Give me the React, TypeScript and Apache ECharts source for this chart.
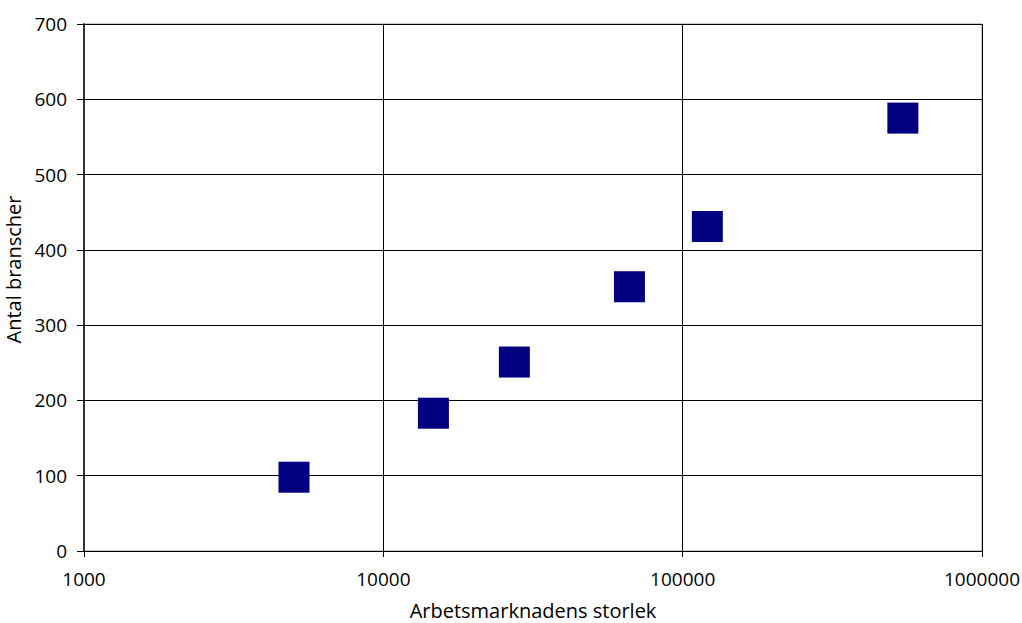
import React, { useEffect, useRef } from "react";
import * as echarts from "echarts";

const marketSize = [5030, 14700, 27400, 66400, 120900, 544000];
const industries = [98, 183, 251, 351, 431, 575];
const yTicks = [0, 100, 200, 300, 400, 500, 600, 700];

export default function App() {
  const ref = useRef<HTMLDivElement>(null);
  useEffect(() => {
    const chart = echarts.init(ref.current!, null, { renderer: "svg" });
    const font = "'Open Sans', 'DejaVu Sans', sans-serif";
    chart.setOption({
      animation: false,
      backgroundColor: "#ffffff",
      grid: {
        left: 84, right: 40, top: 24, bottom: 72,
        show: true, borderColor: "#999", borderWidth: 1, backgroundColor: "transparent",
        outerBoundsMode: "none", containLabel: false,
      },
      xAxis: {
        type: "log",
        logBase: 10,
        min: 1000,
        max: 1000000,
        name: "Arbetsmarknadens storlek",
        nameLocation: "middle",
        nameGap: 49,
        nameTextStyle: { color: "#000", fontSize: 20, fontFamily: font },
        axisLine: { show: true, lineStyle: { color: "#000", width: 1 } },
        axisTick: { show: true, inside: false, length: 6, lineStyle: { color: "#000" } },
        minorTick: { show: false },
        axisLabel: { color: "#000", fontSize: 19, fontFamily: font, margin: 18, formatter: (v: number) => String(Math.round(v)) },
        splitLine: { show: true, lineStyle: { color: "#000", width: 1 } },
      },
      yAxis: {
        type: "value",
        min: yTicks[0],
        max: yTicks[yTicks.length - 1],
        interval: 100,
        name: "Antal branscher",
        nameLocation: "middle",
        nameGap: 55,
        nameTextStyle: { color: "#000", fontSize: 20, fontFamily: font, padding: [0, 0, 0, 36] },
        axisLine: { show: true, lineStyle: { color: "#333", width: 2 } },
        axisTick: { show: true, inside: false, length: 7, lineStyle: { color: "#000" } },
        axisLabel: { color: "#000", fontSize: 19, fontFamily: font, margin: 17 },
        splitLine: { show: true, lineStyle: { color: "#000", width: 1 } },
      },
      series: [
        {
          type: "scatter",
          symbol: "rect",
          symbolSize: 31,
          itemStyle: { color: "#000080", opacity: 1 },
          data: marketSize.map((x, i) => [x, industries[i]]),
        },
      ],
    });
    return () => chart.dispose();
  }, []);
  return <div ref={ref} style={{ width: 1022, height: 623, position: "absolute", left: 0, top: 0 }} />;
}
